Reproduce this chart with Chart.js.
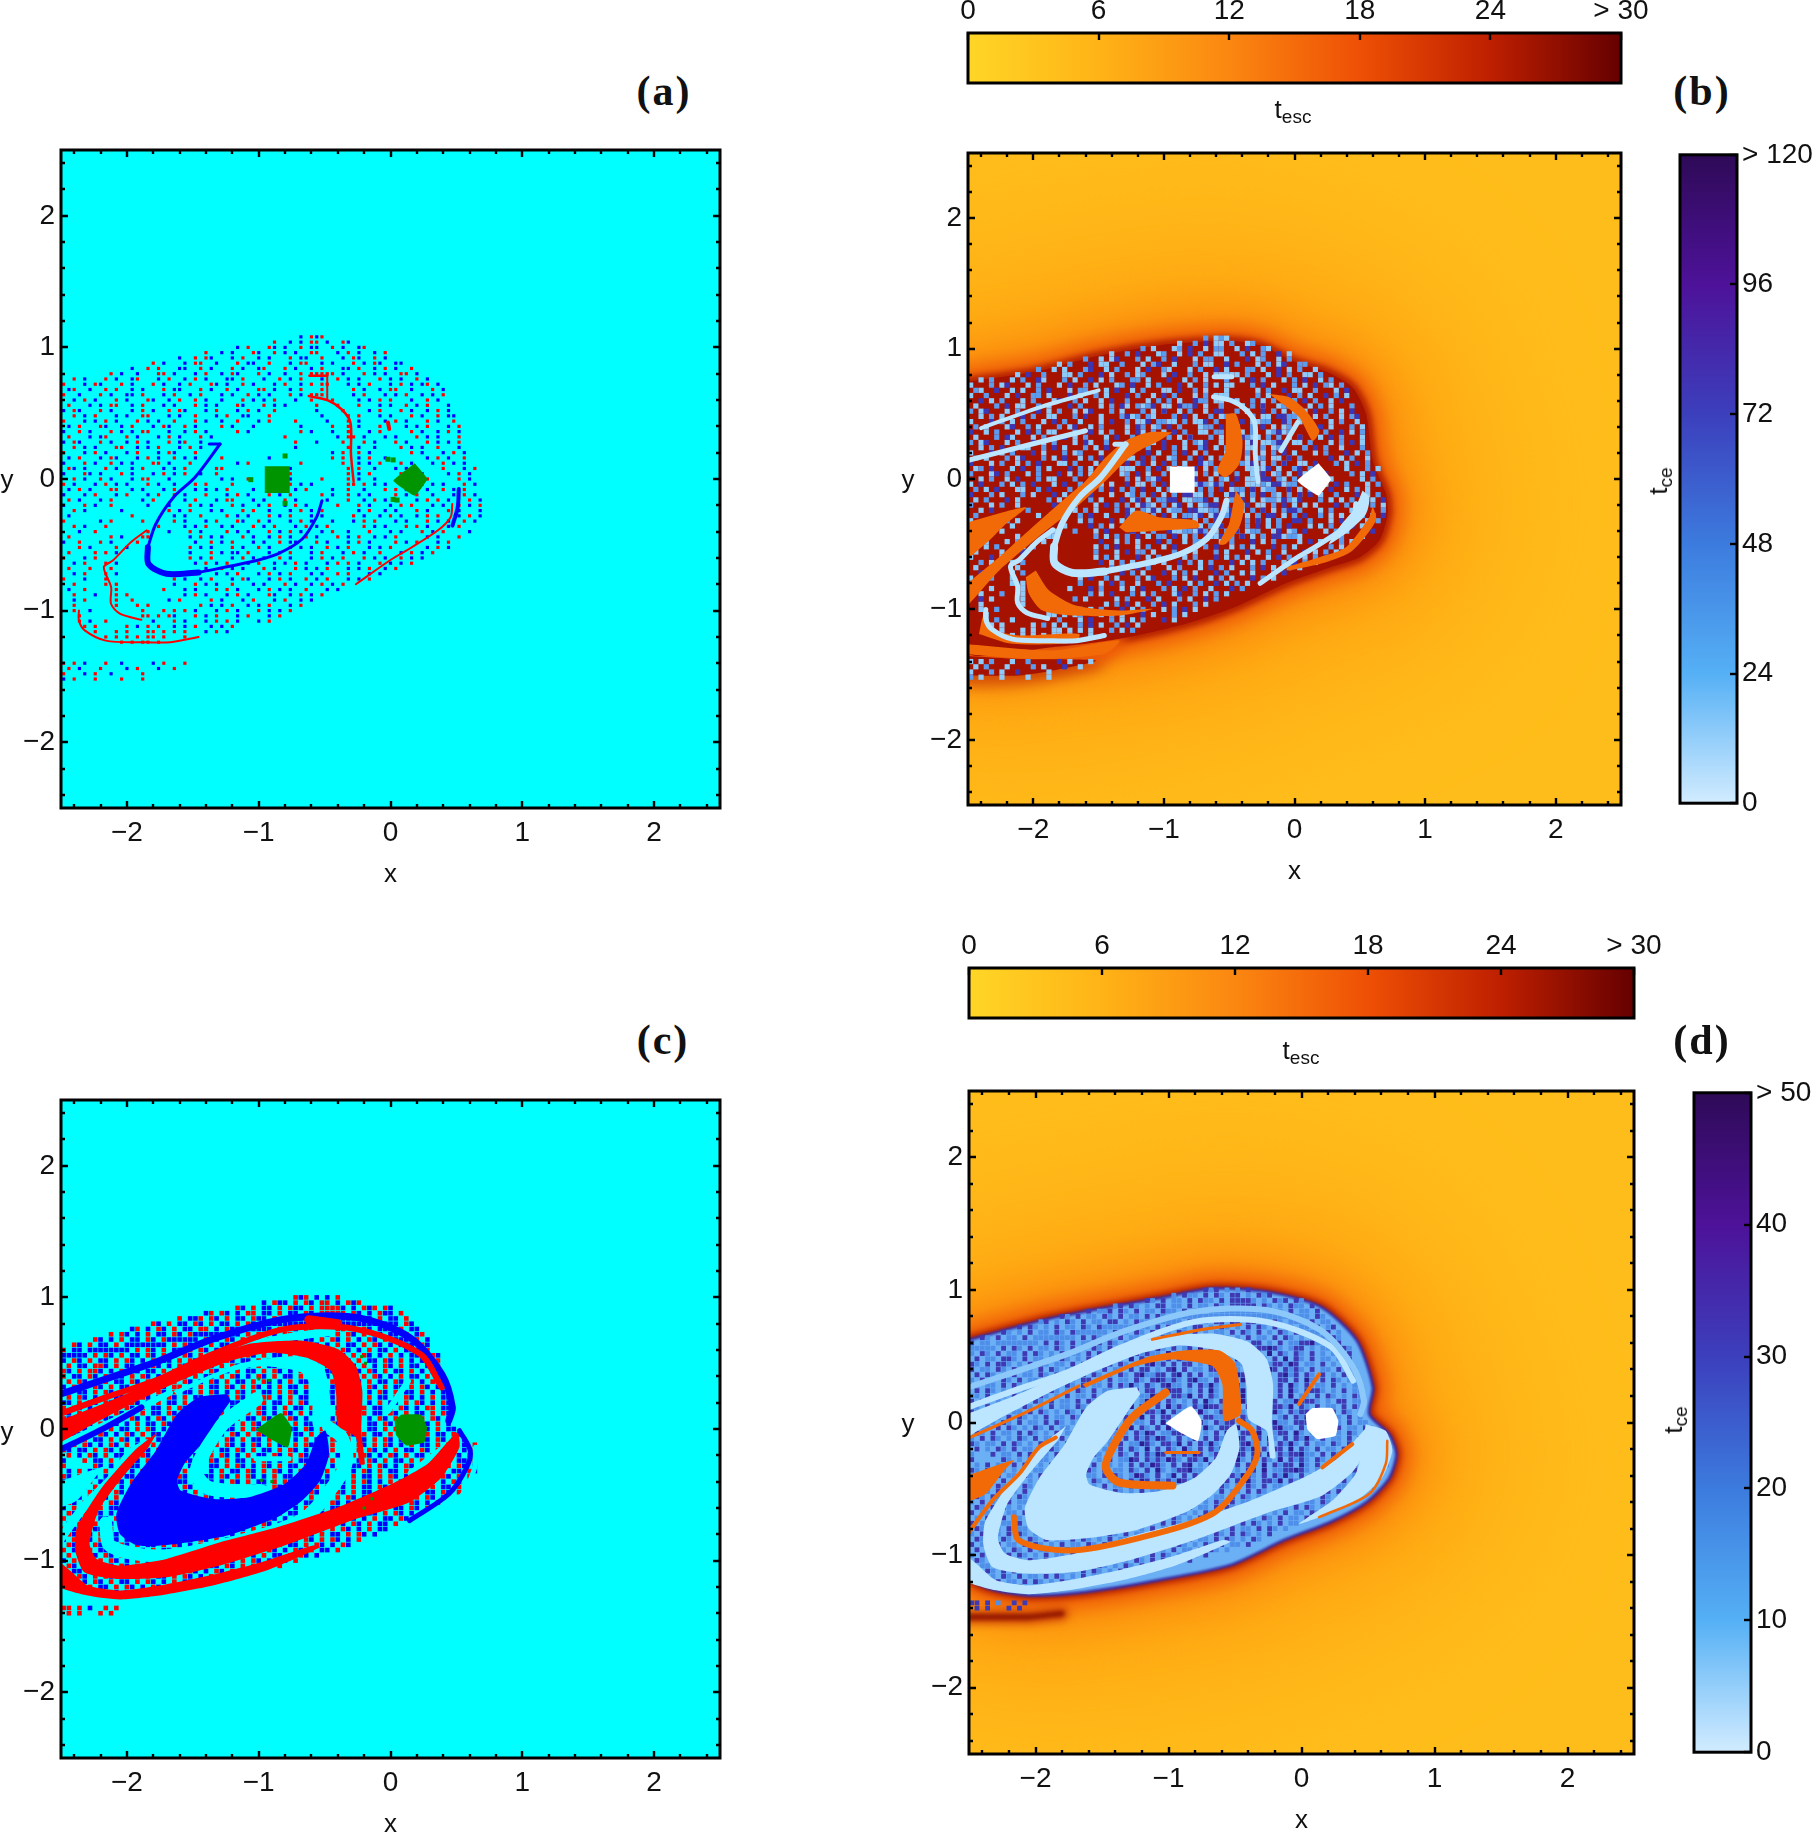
<!DOCTYPE html>
<html>
<head>
<meta charset="utf-8">
<script src="https://cdn.jsdelivr.net/npm/chart.js@4"></script>
<style>
  html, body { margin: 0; background: #fff; overflow: hidden; }
  #page { position: relative; width: 1816px; height: 1833px; overflow: hidden; }
  canvas { position: absolute; }
  .note { position: absolute; transform: translate(-50%, -50%); font: 26px "Liberation Sans"; color: #111; white-space: nowrap; }
  .note sub { font-size: 19px; vertical-align: -5px; }
  .tag { font: bold 42px "Liberation Serif"; letter-spacing: 2px; }
  .up { transform: translate(-50%, -50%) rotate(-90deg); }
</style>
</head>
<body>
<div id="page"></div>
<script>
// axes
const majorTicks = [-2, -1, 0, 1, 2];
const minorTicks = [-2.4, -2.2, -1.8, -1.6, -1.4, -1.2, -0.8, -0.6, -0.4, -0.2, 0.2, 0.4, 0.6, 0.8, 1.2, 1.4, 1.6, 1.8, 2.2, 2.4];

// colour bars
const tescTicks = [0, 6, 12, 18, 24, 30];
const tescColors = ['#FFD626', '#FFB316', '#FB8711', '#EE5005', '#BE1F00', '#650000'];
const tceTicksB = [0, 24, 48, 72, 96, 120];
const tceTicksD = [0, 10, 20, 30, 40, 50];
const tceColors = ['#D2ECFF', '#55B0F5', '#3C7BDE', '#3C3FBC', '#4D1299', '#2E0A57'];

const spineTip = [[-1.375, .266], [-1.293, .266]];
const spineThin = [[-1.293, .266], [-1.483, .013], [-1.646, -.139], [-1.781, -.342], [-1.841, -.519]];
const spineThick = [[-1.841, -.519], [-1.836, -.646], [-1.70, -.72], [-1.456, -.71]];
const spineTail = [[-1.456, -.71], [-1.076, -.633], [-.86, -.57], [-.67, -.456], [-.561, -.29], [-.52, -.165]];
const blueRight = [[.518, -.076], [.51, -.215], [.47, -.354]];
const redTop = [[-.615, .785], [-.48, .785]];
const redDrop = [[-.48, .785], [-.48, .6]];
const redArc = [[-.62, .63], [-.48, .6], [-.372, .53], [-.304, .43], [-.30, .19], [-.28, -.02]];
const redHook = [[-.019, .43], [-.01, .38]];
const redDiag = [[-1.85, -.39], [-1.97, -.48], [-2.107, -.62], [-2.175, -.67], [-2.12, -.82], [-2.12, -.95], [-2.05, -1.025], [-1.89, -1.07]];
const redOuter = [[-2.364, -1.0], [-2.364, -1.076], [-2.32, -1.15], [-2.16, -1.228], [-1.89, -1.24], [-1.67, -1.24], [-1.456, -1.2]];
const redRight = [[.469, -.19], [.456, -.29], [.36, -.39], [.144, -.53], [.008, -.61], [-.263, -.8]];
const squareIsland = [[-.954, .096], [-.765, .096], [-.765, -.106], [-.954, -.106], [-.954, .096]];
const diamondIsland = [[.184, .12], [.279, 0], [.184, -.127], [.022, -.013], [.184, .12]];
const greenBitsA = [[-.8, .175], [-1.06, -.005], [-.8, -.185], [.02, .145], [.02, -.155], [-.02, .15], [.05, -.16]];

// panel b: escape-time structure
const envelopeB = [[-2.55, .74], [-2, .82], [-1.5, .945], [-1, 1.03], [-.5, 1.06], [-.25, 1.02], [0, .9], [.25, .82], [.445, .7], [.547, .5], [.6, .14], [.7, -.115], [.713, -.27], [.65, -.47], [.5, -.6], [.265, -.68], [-.066, -.8], [-.45, -.98], [-.83, -1.11], [-1.34, -1.226], [-1.854, -1.29], [-2.55, -1.3], [-2.55, .74]];
const stripB = [[-2.55, -1.354], [-2.11, -1.38], [-1.52, -1.392], [-1.854, -1.469], [-2.11, -1.507], [-2.55, -1.507]];
const bandA = [[-.934, .358], [-1.113, .358], [-1.292, .294], [-1.445, .166], [-1.598, -.013], [-1.777, -.166], [-2.007, -.37], [-2.262, -.6], [-2.55, -.856], [-2.55, -1.009], [-2.262, -.702], [-1.981, -.46], [-1.675, -.217], [-1.445, -.013], [-1.292, .14], [-1.19, .217], [-1.036, .294]];
const wedgeB = [[-2.55, -.345], [-2.058, -.217], [-2.211, -.345], [-2.339, -.473], [-2.55, -.651]];
const tailB = [[-1.343, -.37], [-1.215, -.243], [-1.036, -.294], [-.755, -.319], [-.73, -.37], [-1.036, -.396], [-1.292, -.409]];
const vertUpB = [[-.526, .498], [-.449, .498], [-.398, .294], [-.423, .115], [-.526, .013], [-.589, .064], [-.526, .217]];
const vertLowB = [[-.449, -.089], [-.385, -.192], [-.423, -.37], [-.526, -.498], [-.577, -.498], [-.5, -.345]];
const crescentB = [[-1.981, -.702], [-1.879, -.856], [-1.675, -.971], [-1.343, -1.009], [-1.087, -.996], [-1.343, -1.047], [-1.701, -1.047], [-1.93, -1.009], [-2.033, -.881], [-2.058, -.753]];
const lowLeftB = [[-2.39, -1.06], [-2.288, -1.162], [-2.109, -1.2], [-1.649, -1.188], [-1.675, -1.252], [-2.16, -1.264], [-2.416, -1.188]];
const lowRightB = [[-.066, -.677], [.19, -.6], [.394, -.524], [.573, -.294], [.598, -.217], [.624, -.319], [.445, -.549], [.241, -.639], [-.04, -.702]];
const upRightB = [[-.194, .651], [-.04, .626], [.087, .524], [.19, .37], [.139, .294], [.036, .473], [-.091, .575]];
const underB = [[-2.55, -1.264], [-1.854, -1.315], [-1.343, -1.239], [-1.45, -1.34], [-1.98, -1.38], [-2.55, -1.34]];
const lobeB = [[.521, -.089], [.573, -.14], [.547, -.268], [.419, -.396], [.266, -.498], [.343, -.37], [.47, -.217]];
const streak1B = [[-2.55, .13], [-2.0, .27], [-1.6, .37]];
const streak2B = [[-2.4, .39], [-1.95, .55], [-1.5, .68]];
const streak3B = [[.024, .434], [-.104, .217]];

// panels c and d: shared structure
const envelopeC = [[-2.55, .61], [-1.89, .785], [-1.076, .937], [-.67, 1.01], [-.263, .987], [.144, .873], [.415, .62], [.537, .266], [.51, .063], [.66, -.09], [.713, -.24], [.66, -.418], [.496, -.595], [.225, -.747], [-.128, -.886], [-.534, -1.076], [-1.076, -1.19], [-1.62, -1.278], [-2.03, -1.304], [-2.35, -1.25], [-2.55, -1.12], [-2.55, .61]];
const blobC = [[-1.239, .266], [-1.456, .24], [-1.619, .114], [-1.781, -.165], [-1.971, -.418], [-2.08, -.646], [-2.053, -.797], [-1.917, -.886], [-1.619, -.873], [-1.239, -.81], [-.86, -.671], [-.67, -.544], [-.534, -.392], [-.466, -.19], [-.493, -.013], [-.561, -.063], [-.643, -.266], [-.805, -.418], [-1.076, -.519], [-1.348, -.532], [-1.592, -.468], [-1.619, -.392], [-1.565, -.266], [-1.456, -.139], [-1.32, .063], [-1.212, .215]];
const redBandC = [[-2.55, .05], [-2.161, .2], [-1.809, .354], [-1.456, .519], [-1.076, .646], [-.67, .671], [-.399, .608], [-.263, .481], [-.214, .291], [-.222, -.013], [-.195, -.266], [-.236, -.266], [-.263, -.063], [-.399, .025], [-.413, .266], [-.453, .443], [-.643, .544], [-.914, .58], [-1.212, .519], [-1.565, .38], [-1.89, .228], [-2.27, .03], [-2.55, -.13]];
const redRibbonC = [[-1.768, -.025], [-1.944, -.165], [-2.188, -.443], [-2.378, -.747], [-2.392, -.924], [-2.324, -1.089], [-2.08, -1.139], [-1.7, -1.127], [-1.293, -1.038], [-.805, -.886], [-.263, -.684], [.144, -.557], [.388, -.367], [.523, -.139], [.51, -.025], [.442, -.089], [.279, -.266], [.035, -.405], [-.399, -.595], [-.86, -.747], [-1.293, -.861], [-1.7, -.987], [-2.053, -1.038], [-2.23, -.987], [-2.283, -.873], [-2.215, -.62], [-2.053, -.392], [-1.836, -.139]];
const redOuterC = [[-2.55, -.975], [-2.55, -1.18], [-2.297, -1.266], [-2.053, -1.296], [-1.754, -1.266], [-1.348, -1.19], [-.941, -1.076], [-.534, -.899], [-.588, -.886], [-.98, -1.013], [-1.375, -1.114], [-1.754, -1.19], [-2.053, -1.228], [-2.297, -1.19], [-2.432, -1.076]];
const lobeC = [[.482, -.0125], [.633, -.063], [.683, -.213], [.608, -.414], [.432, -.576], [.132, -.714], [-.019, -.764], [.232, -.589], [.407, -.388], [.457, -.213]];
const blueTopC = [[-2.55, .25], [-2.161, .38], [-1.754, .519], [-1.348, .684], [-.805, .835], [-.263, .848], [.144, .696], [.388, .418], [.469, .165], [.442, .063]];
const redTopC = [[-2.55, .1], [-2.161, .24], [-1.754, .38], [-1.348, .57], [-.805, .759], [-.263, .759], [.225, .57], [.388, .316]];
const redBlobC = [[-.62, .83], [-.4, .8]];
const blueArcC = [[.523, -.013], [.605, -.165], [.578, -.291], [.442, -.494], [.144, -.696]];
const blueLeftC = [[-2.55, -.18], [-2.161, .013], [-1.89, .165]];
const triangleIsland = [[-1.022, -.005], [-.832, .122], [-.751, .0127], [-.778, -.139], [-.887, -.089], [-1.022, -.005]];
const octagonIsland = [[.031, .063], [.081, .108], [.232, .108], [.277, .0125], [.257, -.1], [.119, -.125], [.044, -.05], [.031, .063]];
const greenBitsC = [[-.22, .55], [-.19, .5], [-1.0, .38], [-.92, .37], [-.98, -.39], [-.9, -.4], [-.2, -.6], [-.14, -.53]];
const gapRing = [[-2.162, -.714], [-2.124, -.89], [-1.748, -.965], [-1.247, -.877], [-.67, -.689], [-.42, -.414], [-.332, -.238], [-.37, -.063], [-.47, .0125]];
const gapInner = [[-1.02, .226], [-1.272, .038], [-1.42, -.188], [-1.472, -.338], [-1.372, -.451], [-.97, -.476]];
const gapArc = [[-1.648, .288], [-1.172, .489], [-.871, .544], [-.62, .544], [-.495, .439], [-.457, .063], [-.583, .0125], [-.595, .288], [-.67, .426], [-.971, .476], [-1.247, .426], [-1.623, .263]];
const gapWedge = [[-2.55, -.414], [-2.162, -.283], [-2.237, -.363], [-2.375, -.539], [-2.55, -.614]];
const gapLeft = [[-2.55, -.138], [-2.05, .088], [-1.673, .276]];
const gapArrow = [[-1.848, -.113], [-1.974, -.188], [-2.124, -.388], [-2.325, -.589], [-2.55, -.9]];
const gapTop = [[-1.122, .627], [-.746, .702], [-.458, .739]];
const gapRight = [[.132, .363], [-.019, .138]];
const gapWedgeRight = [[.382, -.163], [.157, -.338]];
const gapOuter = [[.645, -.138], [.633, -.313], [.508, -.539], [.132, -.714]];
const gapShort = [[-1.02, -.226], [-.77, -.226]];
const tailD = [[-2.55, -1.466], [-2.05, -1.466], [-1.8, -1.44]];

// cell maps, one character per 0.04 x 0.04 cell, first row at y = 1.08, first column at x = -2.48
const cellStep = 0.04;
const cellsA = [
".............................................b.rbr",
"........................................r..b.d.rr.b..rb",
".................................b.r...rb.d..r.bb..r.d..br",
"...........................r..b.d...rb..r.d.b..rr...b.r.b..d.r",
"......................b..r.rd...b.r..b.d...r.bb..r...d.rb..r.b",
".................r.b...d.rr..b...r.bd..r...b.rr..d.b...r.b.rd..bb",
".............b..r.r...bd..r.b...r.d..br...r.b..d.r...bb.r..d.r.b..r",
".........r.d..b...rr.b...d.r..b.rb...r.d..b..r.rrrrr.b...r.d.b..rr.b.",
"..r.b...r.b..dr...b.r..d.r.b...bb.r...d..r.b.r...b..r.d.b...r.b.d..r.b",
"r...b.rd...r.b...r.d..b.r...rb.d..r.b...d.r..b.r.rr...b.d.r...b.r.d.br.b",
".br..d..r.r..b.d...r.bb...r.d..r.b...rr.d..b.r...r.....r.b..d.rr..b...r.d",
"r..b...r.d..bb.r...d.r..b.r...d.b..r.d.b...r.b.rrr.....b.r...d.b.r..d.b.r",
"..d.r.b...r.b...rd..b.r..r.d..b...r.b.d.r...b..r...r....d.b.r.r...b..r.d.",
".r...b.d.rr..b.r...d.b...r.b.d...rb...r.d.b.....r...r...r...b.d..r.b.r...b",
"b.rd...r.b...d.r.b..r.rd...b.r...d.r.b..r.......d....r....b.r...r.d..b.r.d.",
"..r.b.r...d.b..rr...b.d..r...b.r..bd...r.........b....r.r...d.b...r.b..r.bd",
"r...d.b.r.b...r.d.b..r...r.d..b..r...b.r....r.....d...r.b....b.r.d...r.b..r.",
".b.r...rd..b.r...b.rd..r.b....r.d...b........b.....r..r.d...r....b.d.r...b.r",
"d..r.b...r.d.b.rr...b..d.r.b.....r.d.........r.b...b..r...b.r.....r.b..d.r.b",
".r...b.dr...r.b...d.r.b...r.d.............r.........d.rr.b...d.b...r.d.b...r",
"b.rd...r.b..d.r.b...r.dr..b.................r...b....r...r.d...r.b...r.b.d.r",
"..r.b.d...rr..b.d.r...b.r.d.................b.........r.b..b....r.d.b..r...b.",
"r...d.r.b...d.r...b.rb...r.........................d.r..r.d.......r.b...d.r.b",
".b.r...b.rd...b.r.d..r.b.d....r........b...........r.r..b.r..b.......d.r.b..r",
"d...r.b..r.b.d...rr.b...r........d.r.........r.......r..d.b.r...r.d...b.r.d.b",
".rb.d...r.d..b.r...d.b.r.....rr.........rr.b..........r.r..b...d.b......r...b.r",
"b...rd.b...r.b...d.r.b.r..b..r...........d.r..........r.b.r.....r...d....b.r.d.",
"..r.b..r.d...b.rr...b.........b.d..r.......b.....r....r.d..b.......b.r.....r.b.",
"r.d...b.r.b.d...r.d..b...r.r....r..........r.b.d......rr.r.d.b......r.d.b...r.b.",
".b.r.d...rr..b.d...b.r...b.d.b.r....d.......b.r....b..r..b...r.r.b...d..r.b.r..",
"d...b.r...b.r...d.r..r.d...r...b.r.b...r.d.r.....r.d..r.d.b....r.d.r..b...d.r.b",
".r.b...d.r.....b.r.....b.r...d.rr...b.d...r.b.....b...r..b.r.b.d...b.r.r.b...r.d",
"b...r.b..r......d...b...r.d.b...r.b..d.r..b.r.d.....r...r.d...b.r.r...d.b..r.b.r",
"..r.d......b........r.b.r...b.d...r.r..b...d.r.b.r......b.r..d.b...r.b...r.d...b",
".b...........r.......b.d..r....r.b.d...r.b.r...d.b.....r.d..b.r.d..b.r.r...b.r.d",
"r......b.r.....r.....r.b...d.r...rb..r.d...b.r.b...d...b.r.r...d.b...r.d.b..r.b.",
"..r.b...r.........r....d.b.r..b.d...r.b.r...d.r.b.r......r.b.d...r.r.b...d.r...",
"...b..r.........r...b...r.d....r.b.d...r.b.r.b...d.r..b...r...b.d...r.b.r....d.",
".r.......r.d...rr.......b.r.b.d...r.b..d.r.b..r.d...r.b.r..d.b.r.....d.b...r.",
"b..r...r.b....r..........d..r.b.r...d.b..r.bb...r.b...d.r.b....r.d.r...b.r.",
"...r.b....r.b...........r.b.d...r.b..r.d...r.b.d..r.b.r...d.b.r......b.r.d",
".r....r.r.d.............b...r.d.bb.r...b.d.r...b.r...d.r.b..r...d.r.b.r.",
"r...d.r.................r.b.r...d.r.b.d..r.b...d.r.b.r...r.d.b..r.b.d",
"..b.r...r.b..............d.r.b.r...b.r..d.b.r.b...d.r.r.b...r.d.b.r",
".r...r...r.................b..r.d.b...r.b...r.d.b.r...b.d.r..b.r.",
"..d.r...r.b..........r.b.r...d.b.r...d.r.b.r...d.b..r.r...b.d",
"r...b...r............r.d..b.r...b.rd...b.r.d..r.b.r...d.b.r",
"..r.....r.r..........b...r.d.b..r...b.d...r.b..d.r.b.r...",
".b..r.....r........r...d.b...r.r.d...b.r.d.b..r...d.b",
"..r...b...r.r..........b.r.d...b.r.b...rd..b.r.b.r",
"..d.r.....r..r......b.r.....r.b...d.r...b.r..d.b.",
"..r.......r...r.r.........r.b.d.r..b.d.r...b.r",
"..r..b.........r...r.r.r.b...d.r.b...r.b.d.r",
"...r...........rr.r.rb...r.b.r...d.r...b.r",
"...r.b..r........b...r.d...b.r.r.b...d.r",
"....r.r.....r.b.r.r..b.d.r..b.d.r.",
"......r...r.r...rr.r.r.r...b.r.b",
"........r.r.r.r.rr.r...r..",
"...........r.r.rr.r....",
"................",
"",
"",
"r.r.b...r..b.....d.r...r",
".r.b...r....b.r...d..r",
"r...b.r..d.....r.",
"b.r...r....r...r",
];
const cellsC = [
"",
"",
"............................................rbr.b.b.r",
"......................................b.rbb.r.rb.rr.b.rbr.",
".................................rb.r.bb.r.rbb.r.rrrrb.b.rbr.rb",
"...........................br.rb.b.rr.bb.r.bb.rb.rrrrr.rb.b.rbb.r",
"......................r.bbr.rb.r.bb.rbb.r.rb.bbbbbbbbbbbbbb.r.bb.r",
".................rb.r.bb.rb.r.bb.r.rb.bbbbbbbbbbbbbbbbbbbbbbbbbb.rb.",
".............br.b.rb.r.bb.rr.b.rbbbbbbbb.rr.b.rr.rr.rr.r.rb.bbb.r.bb",
".........r.rb.b.r.bb.rb.rbbbbbbbbb.r.rb.b.rr.b.rb.b.r.rb.r.bb.bb.r.br",
"......rb.b.r.bb.rb.rbbbbbb.r.b.rb.r.bb.rb.r.b.bb.r.rb.r.b.rb.r.bbb.r.b",
"..rb.r.bb.r.bbbbbbbb.r.rb.b.r.bb.rb.r.b.rb.b.r.rb.b.r.bb.r.rb.b.bbb.rb",
"r.bb.bbbbbbbb.r.rb.r.bb.r.rb.b.r.bb.r.rb.b.rb.r.bb.r.rb.b.r.bb.r.bbb.r.",
"bbbbb.r.rb.r.bb.rb.r.b.rb.r.bb.r.b.rb.r.bb.r.rb.b.r.bb.r.rb.b.r.b.bbb.rb",
"b.rb.r.bb.r.rb.b.r.bb.r.rb.b.r.rb.bb.r.rb.b.r.bb.r.rb.b.r.bb.rb.r.b.bb.r",
".r.bb.rrb.r.bb.r.rb.b.rb.r.bb.r.rb.b.r.bb.rb.r.bb.r.rb.b.r.b.rb.r.bb.b.r",
"rb.r.rrb.b.r.rb.bb.r.rb.b.r.rb.b.r.bb.r.rb.b.rb.r.bb.r.rb.rb.r.bb.r.b.bb",
"r.bb.rb.r.bb.r.rb.b.rr.b.r.bb.r.rb.b.rb.r.bb.r.rb.b.r.bb.r.rb.b.r.bb.r.bb",
".r.rb.b.r.bb.rb.r.bb.r.rb.b.rb.r.bb.r.rb.b.r.bb.rb.r.rb.b.r.bb.rb.r.b.rbb",
"b.r.b.rb.r.bb.r.rb.b.rr.b.r.bb.rb.r.rb.b.r.bb.r.rb.b.r.bb.rb.r.bb.r.rb.bb.",
"rb.bb.r.rb.b.r.bb.rb.r.bb.r.rb.b.rb.r.bb.r.rb.b.r.bb.r.rb.b.rb.r.bb.r.b.br",
".r.rb.b.r.bb.r.rb.b.rb.r.bb.rb.r.rb.b.rr.b.r.bb.r.rb.b.rb.r.bb.r.rb.b.r.bb",
"bb.r.bb.rb.r.rb.b.r.bb.r.rb.b.r.bb.rb.r.bb.r.rb.b.rb.r.rb.b.r.bb.r.rb.b.rb",
"r.rb.b.r.bb.rb.r.bb.r.rb.b.rb.r.bb.r.rb.b.r.bb.rb.r.b.rb.r.bb.r.rb.b.rr.bb",
".b.r.bb.r.rb.b.r.bb.rb.r.rb.b.r.bb.r.rb.b.rb.r.bb.r.rb.b.r.bb.rb.r.bb.r.rb",
"rb.rb.r.bb.r.rb.b.rb.r.bb.r.rb.b.r.bb.rb.r.rb.b.r.bb.r.rb.b.rb.r.bb.r.rb.b",
"b.r.bb.r.rb.b.r.bb.rb.r.rb.b.r.bb.r.rb.b.rb.r.bb.r.rb.b.r.bb.rb.r.rb.b.r.b",
".rb.b.rb.r.bb.r.rb.b.r.bb.rb.r.bb.r.rb.b.r.bb.rb.r.rb.b.r.bb.r.rb.b.rb.r.bb",
"r.bb.r.rb.b.rb.r.bb.r.rb.b.r.bb.rb.r.rb.b.r.bb.r.rb.b.rb.r.bb.r.rb.b.r.bb.rb.",
".rb.r.bb.r.rb.b.r.bb.rb.r.rb.b.rb.r.bb.r.rb.b.r.bb.rb.r.bb.r.rb.b.r.bb.rb.r.b",
"b.r.rb.b.rb.r.bb.r.rb.b.r.bb.r.rb.b.rb.r.bb.r.rb.b.r.bb.rb.r.rb.b.r.bb.r.rb.b.r",
"rb.bb.r.rb.b.r.bb.rb.r.rb.b.r.bb.rb.r.bb.r.rb.b.rb.r.bb.r.rb.b.r.bb.rb.r.rb.b.r",
".r.b.rb.r.bb.r.rb.b.rb.r.bb.r.rb.b.r.bb.rb.r.rb.b.r.bb.r.rb.b.rb.r.bb.r.rb.b.rb",
"b...r.bb.r.rb.b.r.bb.r.rb.b.rb.r.bb.r.rb.b.r.bb.rb.r.rb.b.rb.r.bb.r.rb.b.r.bb.r",
"r.....rb.b.r.bb.rb.r.rb.b.r.bb.r.rb.b.rb.r.bb.r.rb.b.r.bb.r.rb.b.rb.r.bb.r.rb.b",
".b.r.bb.r.rb.b.rb.r.bb.r.rb.b.r.bb.rb.r.rb.b.r.bb.r.rb.b.rb.r.bb.r.rb.b.r.bb.rb",
"rb.r.rb.b.r.bb.r.rb.b.rb.r.bb.rb.r.rb.b.r.bb.r.rb.b.rb.r.bb.r.rb.b.r.bb.rb.r.r",
"b.rb.r.bb.rb.r.rb.b.r.bb.r.rb.b.rb.r.bb.r.rb.b.r.bb.rb.r.rb.b.r.bb.r.rb.b.rb.",
".r.bb.r.rb.b.r.bb.rb.r.rb.b.r.bb.r.rb.b.rb.r.bb.r.rb.b.r.bb.rb.r.rb.b.r.bb.r.",
"rb.r.rb.b.rb.r.bb.r.rb.b.r.bb.rb.r.rb.b.r.bb.r.rb.b.rb.r.bb.r.rb.b.r.bb.rb.r",
"b.bb.r.bb.r.rb.b.r.bb.rb.r.rb.b.r.bb.r.rb.b.rb.r.bb.r.rb.b.r.bb.rb.r.rb.b.",
".rb.rb.r.rb.b.rb.r.bb.r.rb.b.r.bb.rb.r.rb.b.r.bb.r.rb.b.rb.r.bb.r.rb.b.r.",
"b.r.bb.r.bb.r.rb.b.r.bb.rb.r.rb.b.r.bb.r.rb.b.rb.r.bb.r.rb.b.r.bb.rb.r.",
".rb.r.rb.b.rb.r.bb.r.rb.b.r.bb.rb.r.rb.b.r.bb.r.rb.b.rb.r.bb.r.rb.b.r",
"r.bb.r.bb.r.rb.b.r.bb.rb.r.rb.b.r.bb.r.rb.b.rb.r.bb.r.rb.b.r.bb.rb.",
".b.rb.r.rb.b.rb.r.bb.r.rb.b.r.bb.rb.r.rb.b.r.bb.r.rb.b.rb.r.bb.r.",
"r.b.r.bb.r.rb.b.r.bb.rb.r.rb.b.r.bb.r.rb.b.rb.r.bb.r.rb.b.r.bb",
".rb.rb.r.bb.r.rb.b.rb.r.bb.r.rb.b.r.bb.rb.r.rb.b.r.bb.r.rb.b.",
"b.r.bb.r.rb.b.r.bb.r.rb.b.rb.r.bb.r.rb.b.r.bb.rb.r.rb.b.r.",
".rb.r.rb.b.rb.r.bb.r.rb.b.r.bb.rb.r.rb.b.r.bb.r.rb.b.rb",
"r.bb.r.bb.r.rb.b.r.bb.rb.r.rb.b.r.bb.r.rb.b.rb.r.bb.r",
".r.rb.b.rb.r.bb.r.rb.b.r.bb.rb.r.rb.b.r.bb.r.rb.b.",
"b.r.bb.r.rb.b.r.bb.rb.r.rb.b.r.bb.r.rb.b.rb.r.",
".rb.r.rb.b.rb.r.bb.r.rb.b.r.bb.rb.r.rb.b.r",
"..bb.r.bb.r.rb.b.r.bb.r.rb.b.rb.r.bb.",
"...rb.r.rb.b.rb.r.bb.r.rb.b.r.b",
"....b.rb.r.bb.r.rb.b.r.bb.r",
".....r.bb.r.rb.b.rb.r.",
".......r.rb.b.r.",
"",
"",
"rr.r.b..r.r.",
".r.r...r.r.",
"",
"",
];
// extra cells round the two islands, seen in panels b and d but not in a
const cellsCore = [
"", "", "", "", "", "", "", "", "", "", "", "",
"......................................b.r..d.b..r.d...b.r...r.b.d",
"..............................r.b..d.r...b.d.r..b...r.b.d..r.b..",
".................................b.r.d..r.b..r.d...b.r..d.b...r.",
"..............................d.b..r...b.d.r..b.r.d...b..r.d.b.r",
"................................r.d.b.r..b.r.d.b..r.d..r.b..d..r",
".................................b.r..d.b...r.b.d.r...b.d.r..b.",
"..............................r.d..b.r.d.b..r...b.d.r.b..r.d.b.",
"...............................b.r.d..b.r.d...b.r..d.b.r...b.r.d",
"..............................d..b.r.d...r.b.d..r.b...d.r.b.d.r.",
"................................r.b..d.b.r...d.r.b.d.r..b.r.d...b",
"..............................b...d.r..b.d.r.b...r.d.b..r.b.d.r.",
"...............................r.d.b..r...b.d.r.b..d.r.b...r.d.b",
"..............................d.b..r.d.b.r..d.b...r.b.d.r.b.d..r",
"...............................r..b.d.r..b.d.r.b.d...r.b.d.r..b.",
"..............................b.d.r..b.d...r.b.r.d.b..r.d..b.r.d",
"................................r.b.d..r.b.d..r.b..d.r.b.d..r.b.",
"..............................d..r.b.d.r..b.d.r.b.d..r..b.d.r.b.",
"...............................b.d..r.b.d.r...b.d.r.b.d.r.b..d.r",
"..............................r..b.d.r.b..d.r.b...d.r.b.d..r.b.d",
"................................d.r..b.d.r.b.d.r..b.d...r.b.d.r.",
"..............................b..d.r.b..d.r..b.d.r.b.d.r..b.d.r.",
"...............................r.b.d..r.b.d.r.b...d.r.b.d.r.b.d.",
"..............................d.r..b.d.r..b.d.r.b.d..r.b..d.r.b.",
"................................b.d.r.b..d.r.b.d...r.b.d.r.b..d.",
"..............................r..b.d.r.b.d..r.b.d.r..b.d.r.b.d.",
"...............................d.r.b..d.r.b.d..r.b.d.r.b...d.r.",
"..............................b.d.r..b.d.r.b.d.r..b.d.r.b.d.r.b",
];

Chart.defaults.font.family = '"Liberation Sans"';
Chart.defaults.color = '#111';

const pairs = (list) => list.map(([x, y]) => ({ x, y }));
const cellsOf = (grid, ch) => {
  const out = [];
  grid.forEach((row, r) => [...row].forEach((c, i) => {
    if (c === ch) out.push({ x: -2.5 + cellStep * (i + .5), y: 1.1 - cellStep * (r + .5) });
  }));
  return out;
};

// layer helpers
const area = (list, color, tension = .25) => ({ data: pairs(list), showLine: true, fill: 'shape', backgroundColor: color, borderWidth: 0, pointRadius: 0, tension });
const stroke = (list, color, width, tension = .3, blur = 0) => ({ data: pairs(list), showLine: true, fill: false, borderColor: color, borderWidth: width, pointRadius: 0, tension, blur, borderCapStyle: 'round', borderJoinStyle: 'round' });
const cells = (grid, ch, color, side) => ({ data: cellsOf(grid, ch), showLine: false, pointStyle: 'rect', pointRadius: side / Math.SQRT2, pointBorderWidth: 0, pointBackgroundColor: color });
const dots = (list, color, side) => ({ data: pairs(list), showLine: false, pointStyle: 'rect', pointRadius: side / Math.SQRT2, pointBorderWidth: 0, pointBackgroundColor: color });

const halo = (list) => [
  stroke(list, '#FFAA12', 230, .25, 55),
  stroke(list, '#FC8E0E', 80, .25, 22),
  stroke(list, '#EE5C08', 30, .25, 9),
  stroke(list, '#B01C00', 9, .25, 3),
];

// the blur is only for the halo strokes
const blurLayer = {
  id: 'blurLayer',
  beforeDatasetDraw(chart, args) {
    const b = chart.data.datasets[args.index].blur;
    if (b) { chart.ctx.save(); chart.ctx.filter = `blur(${b}px)`; }
  },
  afterDatasetDraw(chart, args) {
    if (chart.data.datasets[args.index].blur) chart.ctx.restore();
  },
};

// plot background, frame and inward ticks
const frameTicks = {
  id: 'frameTicks',
  beforeDraw(chart, _, o) {
    if (!o.back) return;
    const { ctx, chartArea: a } = chart;
    ctx.fillStyle = o.back;
    ctx.fillRect(a.left, a.top, a.width, a.height);
  },
  afterDatasetsDraw(chart, _, o) {
    const { ctx, chartArea: a, scales } = chart;
    ctx.save();
    ctx.strokeStyle = '#000';
    ctx.lineWidth = 2.4;
    const mark = (s, v, len, first, second) => {
      const p = Math.round(s.getPixelForValue(v));
      ctx.beginPath();
      if (s.isHorizontal()) {
        if (first) { ctx.moveTo(p, a.bottom); ctx.lineTo(p, a.bottom - len); }
        if (second) { ctx.moveTo(p, a.top); ctx.lineTo(p, a.top + len); }
      } else {
        if (first) { ctx.moveTo(a.left, p); ctx.lineTo(a.left + len, p); }
        if (second) { ctx.moveTo(a.right, p); ctx.lineTo(a.right - len, p); }
      }
      ctx.stroke();
    };
    for (const id of ['x', 'y']) {
      const s = scales[id];
      const t = o[id];
      if (!t) continue;
      (t.major || []).forEach((v) => mark(s, v, 7, t.first, t.second));
      (t.minor || []).forEach((v) => mark(s, v, 4, t.first, t.second));
    }
    ctx.lineWidth = 3;
    ctx.strokeRect(a.left, a.top, a.width, a.height);
    ctx.restore();
  },
};
Chart.register(blurLayer, frameTicks);

const page = document.getElementById('page');
const mount = (l, t, r, b, m) => {
  const c = document.createElement('canvas');
  c.width = r - l + m.left + m.right;
  c.height = b - t + m.top + m.bottom;
  c.style.left = (l - m.left) + 'px';
  c.style.top = (t - m.top) + 'px';
  page.appendChild(c);
  return c;
};
const minus = (v) => String(v).replace('-', '\u2212');

function panel(box, back, layers) {
  const m = { left: 60, top: 30, right: 10, bottom: 82 };
  const [l, t, r, b] = box;
  const axis = (afterFit, padding) => ({
    type: 'linear', min: -2.5, max: 2.5,
    grid: { drawOnChartArea: false, drawTicks: false },
    border: { display: false },
    afterFit,
    afterBuildTicks: (s) => { s.ticks = majorTicks.map((value) => ({ value })); },
    ticks: { autoSkip: false, maxRotation: 0, padding, font: { size: 28 }, color: '#111', callback: minus },
  });
  const x = axis((s) => { s.height = m.bottom; }, 8);
  x.position = 'bottom';
  x.title = { display: true, text: 'x', font: { size: 26 }, color: '#111', padding: 0 };
  const y = axis((s) => { s.width = m.left; }, 6);
  y.position = 'left';
  new Chart(mount(l, t, r, b, m), {
    type: 'scatter',
    data: { datasets: layers.slice().reverse() },
    options: {
      responsive: false, animation: false, events: [], devicePixelRatio: 1,
      layout: { padding: { top: m.top, right: m.right } },
      scales: { x, y },
      plugins: {
        legend: { display: false }, tooltip: { enabled: false },
        frameTicks: {
          back,
          x: { major: majorTicks, minor: minorTicks, first: true, second: true },
          y: { major: majorTicks, minor: minorTicks, first: true, second: true },
        },
      },
    },
  });
}

function colorBar(box, horizontal, ticks, colors) {
  const [l, t, r, b] = box;
  const m = horizontal ? { left: 40, top: 36, right: 50, bottom: 4 } : { left: 4, top: 20, right: 80, bottom: 20 };
  const max = ticks[ticks.length - 1];
  const paint = (ctx) => {
    const s = ctx.chart.scales[horizontal ? 'x' : 'y'];
    const a = ctx.chart.chartArea;
    if (!s || !a) return colors[0];
    const g = horizontal
      ? ctx.chart.ctx.createLinearGradient(s.getPixelForValue(0), 0, s.getPixelForValue(max), 0)
      : ctx.chart.ctx.createLinearGradient(0, s.getPixelForValue(0), 0, s.getPixelForValue(max));
    colors.forEach((c, i) => g.addColorStop(ticks[i] / max, c));
    return g;
  };
  const value = {
    type: 'linear', min: 0, max,
    position: horizontal ? 'top' : 'right',
    grid: { drawOnChartArea: false, drawTicks: false },
    border: { display: false },
    afterFit: horizontal ? (s) => { s.height = m.top; } : (s) => { s.width = m.right; },
    afterBuildTicks: (s) => { s.ticks = ticks.map((v) => ({ value: v })); },
    ticks: {
      autoSkip: false, maxRotation: 0, padding: 5,
      font: { size: 28 }, color: '#111',
      callback: (v) => (v === max ? '> ' + v : v),
    },
  };
  const band = { type: 'category', display: false };
  new Chart(mount(l, t, r, b, m), {
    type: 'bar',
    data: {
      labels: ['range'],
      datasets: [{ data: [[0, max]], backgroundColor: paint, borderWidth: 0, barPercentage: 1, categoryPercentage: 1 }],
    },
    options: {
      indexAxis: horizontal ? 'y' : 'x',
      responsive: false, animation: false, events: [], devicePixelRatio: 1,
      layout: { padding: horizontal ? { left: m.left, right: m.right, bottom: m.bottom } : { left: m.left, top: m.top, bottom: m.bottom } },
      scales: horizontal ? { x: value, y: band } : { x: band, y: value },
      plugins: {
        legend: { display: false }, tooltip: { enabled: false },
        frameTicks: horizontal
          ? { x: { major: ticks, second: true } }
          : { y: { major: ticks, second: true } },
      },
    },
  });
}

const CY = '#00FFFF', RED = '#FF0000', BLU = '#0000FF', GRN = '#009400';
const LIGHT = '#BCE5FF', ORG = '#F26A08';

// (a)
panel([61, 150, 720, 808], CY, [
  cells(cellsA, 'r', RED, 3.2),
  cells(cellsA, 'b', BLU, 3.2),
  cells(cellsA, 'd', BLU, 3.2),
  stroke(redTop, RED, 2.5, 0), stroke(redDrop, RED, 2, 0), stroke(redArc, RED, 2.5),
  stroke(redHook, RED, 4, 0), stroke(redDiag, RED, 2), stroke(redOuter, RED, 2), stroke(redRight, RED, 2),
  stroke(spineTip, BLU, 3, 0), stroke(spineThin, BLU, 3), stroke(spineThick, BLU, 6), stroke(spineTail, BLU, 3),
  stroke(blueRight, BLU, 4),
  area(squareIsland, GRN, 0), area(diamondIsland, GRN, .1),
  dots(greenBitsA, GRN, 5),
]);

// (b)
panel([968, 153, 1621, 805], '#FFBD1B', [
  ...halo(envelopeB),
  stroke(stripB.concat([stripB[0]]), '#C83A04', 14, .2, 8),
  stroke(underB, '#EE5C08', 12, .2, 6),
  area(envelopeB, '#A51200'),
  area(stripB, '#A51200'),
  cells(cellsA, 'r', '#8CCBFA', 5.2),
  cells(cellsA, 'b', '#5B9CEE', 5.2),
  cells(cellsA, 'd', '#3A36B5', 5.2),
  cells(cellsCore, 'r', '#8CCBFA', 5.2),
  cells(cellsCore, 'b', '#5B9CEE', 5.2),
  cells(cellsCore, 'd', '#3A36B5', 5.2),
  area(bandA, ORG), area(wedgeB, ORG), area(tailB, ORG), area(vertUpB, ORG), area(vertLowB, ORG),
  area(crescentB, ORG), area(lowLeftB, ORG), area(lowRightB, ORG), area(upRightB, ORG), area(underB, ORG),
  area(lobeB, LIGHT),
  stroke(streak1B, LIGHT, 5), stroke(streak2B, LIGHT, 4), stroke(streak3B, LIGHT, 5, 0),
  stroke(redTop, LIGHT, 5, 0), stroke(redArc, LIGHT, 5), stroke(redDiag, LIGHT, 5), stroke(redOuter, LIGHT, 5), stroke(redRight, LIGHT, 5),
  stroke(spineTip, LIGHT, 5, 0), stroke(spineThin, LIGHT, 6), stroke(spineThick, LIGHT, 8), stroke(spineTail, LIGHT, 6),
  area(squareIsland, '#FFFFFF', 0), area(diamondIsland, '#FFFFFF', .1),
]);

// (c)
panel([61, 1100, 720, 1758], CY, [
  cells(cellsC, 'r', RED, 4.6),
  cells(cellsC, 'b', BLU, 4.6),
  area(gapArc, CY), area(gapWedge, CY),
  stroke(gapRing, CY, 13), stroke(gapInner, CY, 14), stroke(gapLeft, CY, 6), stroke(gapArrow, CY, 9),
  stroke(gapTop, CY, 8), stroke(gapRight, CY, 6, 0), stroke(gapWedgeRight, CY, 7, 0), stroke(gapOuter, CY, 5), stroke(gapShort, CY, 5, 0),
  stroke(blueTopC, BLU, 7), stroke(blueLeftC, BLU, 6), stroke(blueArcC, BLU, 5),
  stroke(redTopC, RED, 6), stroke(redBlobC, RED, 9, 0),
  area(blobC, BLU, .2), area(redBandC, RED, .2), area(redRibbonC, RED, .2), area(redOuterC, RED, .2),
  area(triangleIsland, GRN, .15), area(octagonIsland, GRN, .1),
  dots(greenBitsC, GRN, 3),
]);

// (d)
panel([969, 1091, 1634, 1754], '#FFBD1B', [
  ...halo(envelopeC),
  stroke(tailD, '#C83A04', 12, .2, 5),
  area(envelopeC, '#6BB0F5'),
  stroke(envelopeC, '#3B2FA5', 3, .25, 1),
  stroke(tailD, '#8A1200', 5, .2, 2),
  cells(cellsC, 'r', '#3F3AB4', 4.8),
  cells(cellsC, 'b', '#4F8FEA', 4.8),
  cells(cellsCore, 'd', '#2E1E96', 4.8),
  cells(cellsCore, 'b', '#3F3AB4', 4.8),
  area(blobC, LIGHT, .2), area(redBandC, LIGHT, .2), area(redRibbonC, LIGHT, .2), area(redOuterC, LIGHT, .2), area(lobeC, LIGHT, .2),
  stroke(redTopC, LIGHT, 6), stroke(blueTopC, '#8CC8FA', 6),
  area(gapArc, ORG, .2), area(gapWedge, ORG, .2),
  stroke(gapRing, ORG, 6), stroke(gapInner, ORG, 8), stroke(gapLeft, ORG, 3), stroke(gapArrow, ORG, 4),
  stroke(gapTop, ORG, 3), stroke(gapRight, ORG, 4, 0), stroke(gapWedgeRight, ORG, 4, 0), stroke(gapOuter, ORG, 2.5), stroke(gapShort, ORG, 3, 0),
  area(triangleIsland, '#FFFFFF', .15), area(octagonIsland, '#FFFFFF', .1),
]);

colorBar([968, 33, 1621, 83], true, tescTicks, tescColors);
colorBar([969, 968, 1634, 1018], true, tescTicks, tescColors);
colorBar([1680, 153, 1737, 805], false, tceTicksB, tceColors);
colorBar([1694, 1091, 1751, 1754], false, tceTicksD, tceColors);

// labels that sit outside the axes
const notes = [
  ['(a)', 664, 91, 'tag'], ['(b)', 1702, 91, 'tag'], ['(c)', 663, 1040, 'tag'], ['(d)', 1702, 1040, 'tag'],
  ['y', 7, 479, ''], ['y', 908, 479, ''], ['y', 7, 1431, ''], ['y', 908, 1423, ''],
  ['t<sub>esc</sub>', 1293, 111, ''], ['t<sub>esc</sub>', 1301, 1052, ''],
  ['t<sub>ce</sub>', 1660, 481, 'up'], ['t<sub>ce</sub>', 1675, 1420, 'up'],
];
notes.forEach(([html, x, y, cls]) => {
  const d = document.createElement('div');
  d.className = 'note ' + cls;
  d.style.left = x + 'px';
  d.style.top = y + 'px';
  d.innerHTML = html;
  page.appendChild(d);
});
</script>
</body>
</html>
